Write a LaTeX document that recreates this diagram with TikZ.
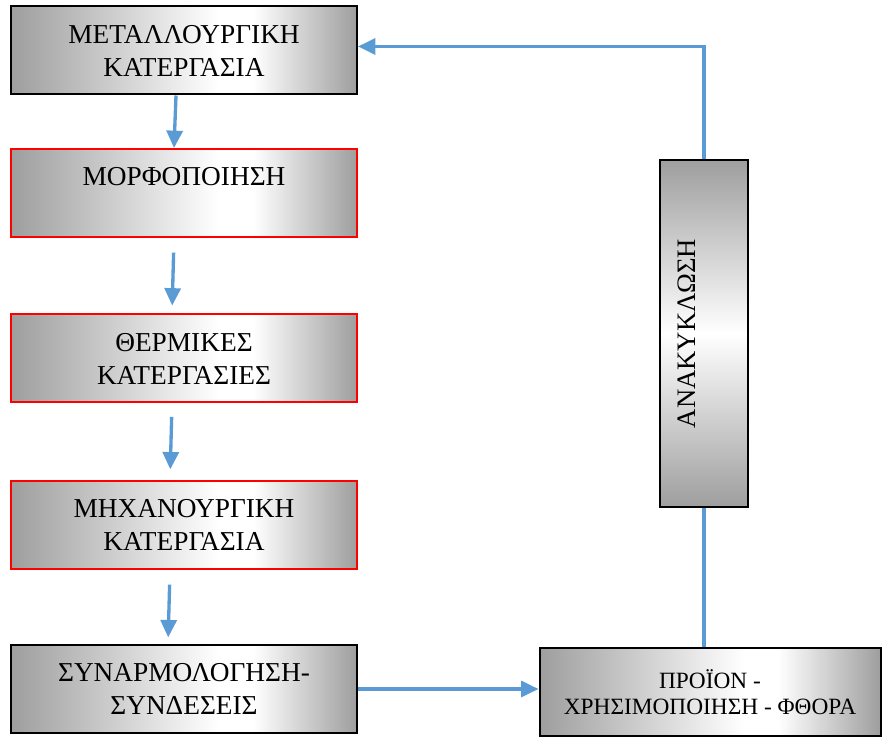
\documentclass[tikz,border=0pt]{standalone}
\usepackage{fontspec}
\setmainfont{Liberation Serif}
\usetikzlibrary{arrows.meta,calc}
\definecolor{myblue}{HTML}{5B9BD5}
\definecolor{myred}{HTML}{FF0000}
\definecolor{mygray}{gray}{0.62}
\pgfdeclarehorizontalshading{myshade}{100bp}{color(0bp)=(mygray); color(25bp)=(mygray);
  color(55bp)=(white); color(60bp)=(white); color(75bp)=(mygray); color(100bp)=(mygray)}

\tikzset{
  stepbox/.style={draw=black, line width=1.5pt, shade, shading=myshade,
    minimum width=259.5pt, minimum height=66pt, align=center, inner sep=2pt,
    font=\fontsize{20.5}{24.75}\selectfont},
  redbox/.style={stepbox, draw=myred},
  recycbox/.style={draw=black, line width=1.5pt, top color=mygray, bottom color=mygray,
    middle color=white, rotate=90, minimum width=260.25pt, minimum height=66pt,
    align=center, inner sep=2pt, font=\fontsize{20}{26}\selectfont},
  flow/.style={-{Triangle[length=13pt,width=12pt]}, draw=myblue, line width=2.5pt},
  flowline/.style={-, draw=myblue, line width=2.5pt},
}

\begin{document}
\begin{tikzpicture}[x=0.75pt,y=0.75pt]

      \useasboundingbox (0,0) rectangle (882,736);

      \pgfmathsetmacro{\leftX}{184}
      \pgfmathsetmacro{\metalY}{685.5}
      \pgfmathsetmacro{\morfY}{543}
      \pgfmathsetmacro{\thermY}{377.5}
      \pgfmathsetmacro{\mechY}{211}
      \pgfmathsetmacro{\synY}{47}

      % left column
      \node [name=metal, stepbox] at (\leftX, \metalY) {ΜΕΤΑΛΛΟΥΡΓΙΚΗ\\ΚΑΤΕΡΓΑΣΙΑ};
      \node [name=morf, redbox] at (\leftX, \morfY) {ΜΟΡΦΟΠΟΙΗΣΗ\\\mbox{}};
      \node [name=therm, redbox] at (\leftX, \thermY) {ΘΕΡΜΙΚΕΣ\\ΚΑΤΕΡΓΑΣΙΕΣ};
      \node [name=mech, redbox] at (\leftX, \mechY) {ΜΗΧΑΝΟΥΡΓΙΚΗ\\ΚΑΤΕΡΓΑΣΙΑ};
      \node [name=syn, stepbox] at (\leftX, \synY) {ΣΥΝΑΡΜΟΛΟΓΗΣΗ-\\ΣΥΝΔΕΣΕΙΣ};

      % right column
      \node [name=prod, stepbox, minimum width=255.75pt,
        font=\fontsize{17.5}{19}\selectfont] at (710, 44)
        {ΠΡΟΪΟΝ -\\ΧΡΗΣΙΜΟΠΟΙΗΣΗ - ΦΘΟΡΑ};
      \node [name=recyc, recycbox] at (704, 402.5) {ΑΝΑΚΥΚΛΩΣΗ\\\mbox{}};

      % flow down
      \draw [flow] ([xshift=-6pt]metal.south) -- ([xshift=-7.5pt]morf.north);
      \draw [flow, shorten <=11pt, shorten >=6pt]
        ([xshift=-7.5pt]morf.south) -- ([xshift=-9pt]therm.north);
      \draw [flow, shorten <=10pt, shorten >=8pt]
        ([xshift=-9pt]therm.south) -- ([xshift=-10.5pt]mech.north);
      \draw [flow, shorten <=11pt, shorten >=5pt]
        ([xshift=-10.5pt]mech.south) -- ([xshift=-12pt]syn.north);

      \draw [flow] (syn.east) -- (syn.east -| prod.west);

      % recycling loop (recyc is rotated: west = bottom, east = top)
      \draw [flowline] (recyc.west) -- (recyc.west |- prod.north);
      \draw [flow] (recyc.east) |- ([yshift=3pt]metal.east);

\end{tikzpicture}
\end{document}
